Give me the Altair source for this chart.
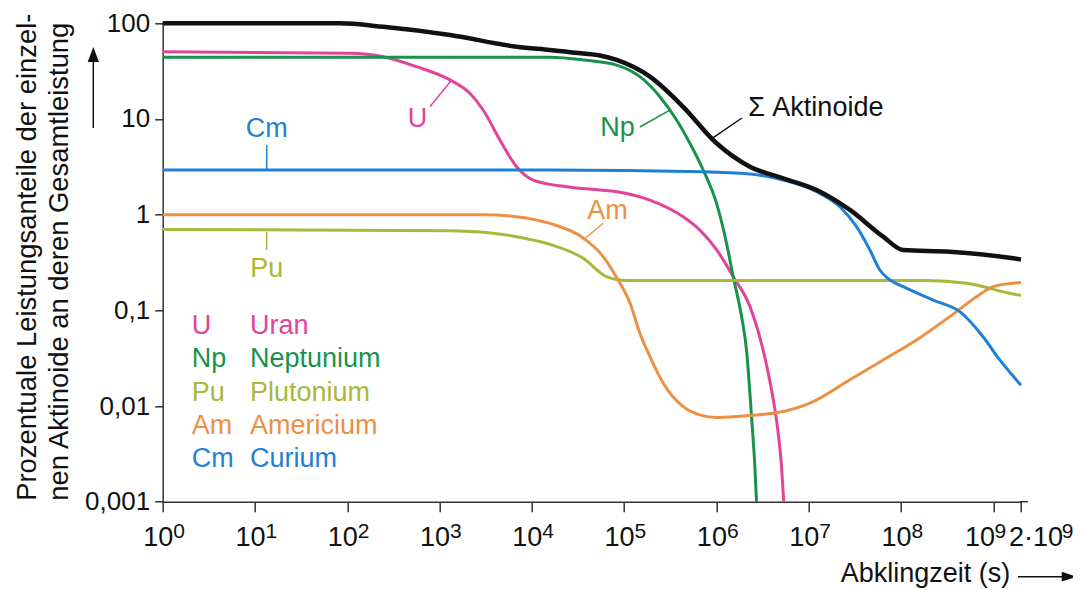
import altair as alt
import pandas as pd

FONT = "Liberation Sans"

# ---------------- data ----------------
# Abklingzeit (s) and Leistungsanteil (%) per curve
t_sum = [1, 83, 245, 1300, 6840, 15700, 36100, 54700, 83000, 190500, 436500,
         1005000, 2307000, 5297000, 12190000, 27990000, 64120000, 105700000,
         338800000, 1644000000, 2000000000]
p_sum = [100, 100, 92, 75.5, 57, 52.6, 48.3, 46.0, 41.4, 27.7, 13.4,
         5.57, 3.17, 2.40, 1.81, 1.12, 0.589, 0.427,
         0.41, 0.35, 0.34]

t_u = [1, 107, 245, 565, 1300, 2130, 2970, 4510, 6840, 10350, 23800, 54700,
       83000, 190500, 436500, 662200, 1005000, 1521000, 2307000, 3214000,
       3963000, 4677000, 5082000, 5370000]
p_u = [50.5, 48.6, 44.8, 35.2, 25.6, 18.6, 12.4, 6.03, 3.17, 2.30, 1.96, 1.81,
       1.74, 1.42, 0.95, 0.69, 0.43, 0.225, 0.11, 0.0382,
       0.0147, 0.0052, 0.00233, 0.001]

t_np = [1, 15700, 36100, 83000, 148300, 244300, 370700, 516400, 719500,
        1005000, 1288000, 1521000, 1875000, 2123000, 2404000, 2612000, 2723000]
p_np = [44.1, 44.1, 41.4, 36.6, 27.7, 17.1, 9.77, 5.57, 2.93,
        1.31, 0.503, 0.225, 0.086, 0.0382, 0.00774, 0.00233, 0.001]

t_pu = [1, 1300, 6840, 15700, 36100, 64600, 106400, 1000000, 10000000,
        189200000, 514000000, 1644000000, 2000000000]
p_pu = [0.70, 0.68, 0.589, 0.49, 0.35, 0.225, 0.205, 0.205, 0.205,
        0.205, 0.192, 0.148, 0.143]

t_am = [1, 2970, 6840, 15700, 36100, 59400, 83000, 115600, 148300, 190500,
        265500, 436500, 662200, 1005000, 2307000, 5297000, 10300000, 27990000,
        64120000, 147600000, 338800000, 659200000, 1000000000, 1644000000,
        2000000000]
p_am = [1.0, 1.0, 0.953, 0.81, 0.57, 0.364, 0.22, 0.12, 0.0577, 0.0328,
        0.0173, 0.00986, 0.00807, 0.00757, 0.00794, 0.00875, 0.0107, 0.0188,
        0.0303, 0.049, 0.086, 0.139, 0.177, 0.192,
        0.195]

t_cm = [1, 15700, 719500, 2307000, 5297000, 12190000, 21780000, 33040000,
        46030000, 59020000, 75860000, 105700000, 223400000, 434500000,
        776200000, 1178000000, 2000000000]
p_cm = [2.93, 2.93, 2.81, 2.66, 2.30, 1.74, 1.21, 0.75,
        0.428, 0.264, 0.208, 0.177, 0.128, 0.0969,
        0.053, 0.0303, 0.0165]

series_keys = ["Σ", "U", "Np", "Pu", "Am", "Cm"]
series_colors = ["#111111", "#E2449A", "#17934C", "#A9B73A", "#EA9143", "#1F80D8"]

# curve labels (text anchor in data units) and their leader lines
label_keys = ["U", "Np", "Am", "Cm", "Pu"]
label_texts = ["U", "Np", "Am", "Cm", "Pu"]
label_t = [577, 84600, 65900, 13.4, 13.4]
label_p = [10.0, 8.01, 1.08, 7.77, 0.268]
sum_label_text = "Σ Aktinoide"
sum_label_t = [2210000]
sum_label_p = [12.97]

leader_keys = ["U", "Np", "Am", "Cm", "Pu", "Σ"]
leader_t1 = [787, 148000, 36000, 13.4, 13.4, 917000]
leader_p1 = [13.4, 8.25, 0.544, 5.35, 0.659, 6.33]
leader_t2 = [1352, 313000, 59400, 13.4, 13.4, 1890000]
leader_p2 = [25.6, 12.4, 0.813, 2.93, 0.428, 10.24]

# legend block
legend_keys = ["U", "Np", "Pu", "Am", "Cm"]
legend_names = ["Uran", "Neptunium", "Plutonium", "Americium", "Curium"]
legend_t_abbr = 2.06
legend_t_name = 8.83
legend_p = [0.0679, 0.0307, 0.01364, 0.00612, 0.002767]

# axes
x_tick_values = [1, 10, 100, 1e3, 1e4, 1e5, 1e6, 1e7, 1e8, 1e9, 2e9]
x_tick_base = ["10", "10", "10", "10", "10", "10", "10", "10", "10", "10", "2·10"]
x_tick_exp = ["0", "1", "2", "3", "4", "5", "6", "7", "8", "9", "9"]
y_tick_values = [0.001, 0.01, 0.1, 1, 10, 100]
y_tick_labels = ["0,001", "0,01", "0,1", "1", "10", "100"]

y_title = ["Prozentuale Leistungsanteile der einzel-",
           "nen Aktinoide an deren Gesamtleistung"]
x_title = "Abklingzeit (s)"

# ---------------- layout constants ----------------
W, H = 858.3, 478.4
PAD_L, PAD_T = 154.7, 15.3
PAD_R = 1065 - PAD_L - W
PAD_B = 582 - PAD_T - H
AX = "#333333"


def label_expr(vals, labs):
    s = "''"
    for v, l in reversed(list(zip(vals, labs))):
        s = f"(abs(datum.value/{v!r}-1) < 0.001 ? '{l}' : {s})"
    return s


xscale = alt.Scale(type="log", domain=[1, 2e9], nice=False)
yscale = alt.Scale(type="log", domain=[0.001, 100], nice=False)
cscale = alt.Scale(domain=series_keys, range=series_colors)

x_axis = alt.Axis(
    values=x_tick_values, labelExpr=label_expr(x_tick_values, x_tick_base),
    grid=False, tickSize=10, tickWidth=1.5, tickColor=AX,
    domainColor=AX, domainWidth=1.5,
    labelFont=FONT, labelFontSize=27, labelColor="#111",
    labelBaseline="alphabetic", labelPadding=34,
    labelOverlap=False, labelFlush=False, labelBound=False,
    labelOffset={"condition": [{"test": "datum.value > 1.5e9", "value": 14.5},
                               {"test": "datum.value > 5e8", "value": -13.6}],
                 "value": -5},
    title=x_title, titleFont=FONT, titleFontSize=27, titleFontWeight="normal",
    titleColor="#111", titleX=847, titleY=79.3, titleAlign="right",
    titleBaseline="alphabetic", titleAngle=0,
)
y_axis = alt.Axis(
    values=y_tick_values, labelExpr=label_expr(y_tick_values, y_tick_labels),
    grid=False, tickSize=8, tickWidth=1.5, tickColor=AX,
    domainColor=AX, domainWidth=1.5,
    labelFont=FONT, labelFontSize=26, labelColor="#111", labelPadding=5,
    labelOverlap=False, labelFlush=False,
    title=y_title, titleFont=FONT, titleFontSize=27.4, titleFontWeight="normal",
    titleColor="#111", titleAngle=270, titleAlign="left", titleBaseline="top",
    titleX=-149.3, titleY=477, titleLineHeight=32,
)


def X(field):
    return alt.X(field, scale=xscale, axis=x_axis)


def Y(field):
    return alt.Y(field, scale=yscale, axis=y_axis)


COLOR = alt.Color("series:N", scale=cscale, legend=None)

curves = [("U", t_u, p_u), ("Np", t_np, p_np), ("Pu", t_pu, p_pu),
          ("Am", t_am, p_am), ("Cm", t_cm, p_cm)]
df_curves = pd.DataFrame([
    {"series": s, "t": t, "p": p, "i": i}
    for s, ts, ps in curves for i, (t, p) in enumerate(zip(ts, ps))
])
df_sum = pd.DataFrame({"series": "Σ", "t": t_sum, "p": p_sum,
                       "i": list(range(len(t_sum)))})

lines = alt.Chart(df_curves).mark_line(strokeWidth=3, interpolate="monotone").encode(
    x=X("t:Q"), y=Y("p:Q"), color=COLOR, detail="series:N", order="i:Q",
)
sum_line = alt.Chart(df_sum).mark_line(strokeWidth=4.5, interpolate="monotone").encode(
    x=X("t:Q"), y=Y("p:Q"), color=COLOR, order="i:Q",
)

df_leader = pd.DataFrame({"series": leader_keys, "t": leader_t1, "p": leader_p1,
                          "t2": leader_t2, "p2": leader_p2})
leaders = alt.Chart(df_leader).mark_rule(strokeWidth=1.5).encode(
    x=X("t:Q"), x2="t2:Q", y=Y("p:Q"), y2="p2:Q", color=COLOR,
)

df_labels = pd.DataFrame({"series": label_keys, "txt": label_texts,
                          "t": label_t, "p": label_p})
labels = alt.Chart(df_labels).mark_text(font=FONT, fontSize=27, align="center",
                                        baseline="middle").encode(
    x=X("t:Q"), y=Y("p:Q"), text="txt:N", color=COLOR,
)
df_sum_label = pd.DataFrame({"series": ["Σ"], "txt": [sum_label_text],
                             "t": sum_label_t, "p": sum_label_p})
sum_label = alt.Chart(df_sum_label).mark_text(font=FONT, fontSize=27, align="left",
                                              baseline="middle").encode(
    x=X("t:Q"), y=Y("p:Q"), text="txt:N", color=COLOR,
)

df_legend_a = pd.DataFrame({"series": legend_keys, "txt": legend_keys,
                            "p": legend_p, "t": [legend_t_abbr] * 5})
df_legend_n = pd.DataFrame({"series": legend_keys, "txt": legend_names,
                            "p": legend_p, "t": [legend_t_name] * 5})
legend_abbr = alt.Chart(df_legend_a).mark_text(font=FONT, fontSize=27, align="left",
                                               baseline="middle").encode(
    x=X("t:Q"), y=Y("p:Q"), text="txt:N", color=COLOR,
)
legend_name = alt.Chart(df_legend_n).mark_text(font=FONT, fontSize=27, align="left",
                                               baseline="middle").encode(
    x=X("t:Q"), y=Y("p:Q"), text="txt:N", color=COLOR,
)

# superscript exponents of the x tick labels
df_exp = pd.DataFrame({"t": x_tick_values, "e": x_tick_exp})
exp_dx = [10.5] * 9 + [1.2, 40.8]
exp_layers = []
for dx in sorted(set(exp_dx)):
    sub = df_exp[[d == dx for d in exp_dx]]
    exp_layers.append(
        alt.Chart(sub).mark_text(font=FONT, fontSize=21, align="left",
                                 baseline="alphabetic", dx=dx, color="#111").encode(
            x=X("t:Q"), y=alt.value(H + 36.3), text="e:N")
    )

one = pd.DataFrame({"k": [0]})
x_arrow_line = alt.Chart(one).mark_rule(color="#111", strokeWidth=1.5).encode(
    x=alt.value(855.3), x2=alt.value(900), y=alt.value(553.4))
x_arrow_head = alt.Chart(one).mark_point(
    shape="M1,0L-1,0.65L-1,-0.65Z", filled=True, size=225, color="#111",
    opacity=1).encode(x=alt.value(906.5), y=alt.value(553.4))
y_arrow_line = alt.Chart(one).mark_rule(color="#111", strokeWidth=1.5).encode(
    x=alt.value(-69.4), y=alt.value(104.7), y2=alt.value(38))
y_arrow_head = alt.Chart(one).mark_point(
    shape="M0,-1L0.75,1L-0.75,1Z", filled=True, size=225, color="#111",
    opacity=1).encode(x=alt.value(-69.4), y=alt.value(31.2))
axis_tail = alt.Chart(one).mark_rule(color=AX, strokeWidth=1.5).encode(
    x=alt.value(W - 1), x2=alt.value(W + 7), y=alt.value(H))

chart = alt.layer(
    lines, sum_line, leaders, labels, sum_label, legend_abbr, legend_name,
    *exp_layers, x_arrow_line, x_arrow_head, y_arrow_line, y_arrow_head, axis_tail,
).properties(
    width=W, height=H,
    autosize=alt.AutoSizeParams(type="none"),
    padding={"left": PAD_L, "top": PAD_T, "right": PAD_R, "bottom": PAD_B},
    background="white",
).configure_view(stroke=None)

chart.save("out.html", embed_options={"renderer": "svg", "actions": False})
